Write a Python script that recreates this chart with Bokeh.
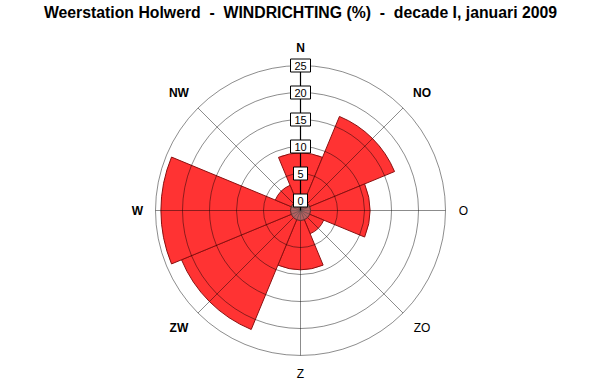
import math
from bokeh.plotting import figure
from bokeh.embed import file_html
from bokeh.resources import INLINE
from bokeh.core.properties import value

# ---- data ----
directions = ["N", "NO", "O", "ZO", "Z", "ZW", "W", "NW"]
compass_deg = [0, 45, 90, 135, 180, 225, 270, 315]
percent = [8.8, 17.0, 11.0, 2.8, 9.1, 22.0, 24.0, 3.2]
ring_values = [0, 5, 10, 15, 20, 25]
ring_labels = ["0", "5", "10", "15", "20", "25"]
title_text = "Weerstation Holwerd\u00a0 -\u00a0 WINDRICHTING (%)\u00a0 -\u00a0 decade I, januari 2009"

# ---- radial scale (pixels) ----
R0 = 10.0      # radius of the 0 ring
K = 5.4        # pixels per percent

def rad(v):
    return R0 + K * v

W, H = 600, 390
CX, CY = 300, 210  # centre in pixels from top-left

p = figure(width=W, height=H, x_range=(-CX, W - CX), y_range=(-(H - CY), CY),
           output_backend="svg", toolbar_location=None, min_border=0)
p.axis.visible = False
p.grid.visible = False
p.outline_line_color = None
p.background_fill_color = "white"
p.border_fill_color = "white"

# wedges
starts, ends, radii = [], [], []
for d, v in zip(compass_deg, percent):
    m = 90 - d
    starts.append(math.radians(m - 22.5))
    ends.append(math.radians(m + 22.5))
    radii.append(rad(v))
p.wedge(x=0, y=0, radius=radii, start_angle=starts, end_angle=ends,
        fill_color="#ff3333", line_color="#8b1010", line_width=1)

# grid rings
outer = rad(ring_values[-1])
p.circle(x=[0] * (len(ring_values) - 1), y=[0] * (len(ring_values) - 1),
         radius=[rad(v) for v in ring_values[1:]],
         fill_color=None, line_color="black", line_alpha=0.45, line_width=1)

# spokes
sx1, sy1 = [], []
for d in compass_deg:
    sx1.append(outer * math.sin(math.radians(d)))
    sy1.append(outer * math.cos(math.radians(d)))
p.segment(x0=[0] * len(sx1), y0=[0] * len(sx1), x1=sx1, y1=sy1,
          line_color="black", line_alpha=0.45, line_width=1)

# centre disc
p.circle(x=[0], y=[0], radius=[rad(0)], fill_color="#808080", fill_alpha=0.6,
         line_color="#5a2a2a", line_width=1)

# north axis
p.segment(x0=[0], y0=[0], x1=[0], y1=[outer], line_color="black", line_width=1.2)

# ring labels in boxes
ry = [rad(v) for v in ring_values]
bw = [8 + 6 * len(s) for s in ring_labels]
p.rect(x=[0] * len(ry), y=ry, width=[max(w, 14) for w in bw], height=[13] * len(ry),
       fill_color="white", line_color="black", line_width=1)
p.text(x=[0] * len(ry), y=ry, text=ring_labels, text_align="center",
       text_baseline="middle", text_font=value("Liberation Sans"),
       text_font_size="11px", text_color="black")

# direction labels
bold_l, bold_x, bold_y, norm_l, norm_x, norm_y = [], [], [], [], [], []
for name, d in zip(directions, compass_deg):
    if d % 90 == 0:
        RX, RY = 163, 163
    else:
        RX, RY = 172, 166
    x = RX * math.sin(math.radians(d))
    y = RY * math.cos(math.radians(d))
    if name in ("O", "ZO", "Z"):
        norm_l.append(name); norm_x.append(x); norm_y.append(y)
    else:
        bold_l.append(name); bold_x.append(x); bold_y.append(y)
p.text(x=bold_x, y=bold_y, text=bold_l, text_align="center", text_baseline="middle",
       text_font=value("Liberation Sans"), text_font_size="12px",
       text_font_style="bold", text_color="black")
p.text(x=norm_x, y=norm_y, text=norm_l, text_align="center", text_baseline="middle",
       text_font=value("Liberation Sans"), text_font_size="12px",
       text_color="black")

# title
p.text(x=[0], y=[CY - 12], text=[title_text], text_align="center",
       text_baseline="middle", text_font=value("Liberation Sans"),
       text_font_size="15.8px", text_font_style="bold", text_color="black")

open("out.html", "w").write(file_html(p, INLINE))
